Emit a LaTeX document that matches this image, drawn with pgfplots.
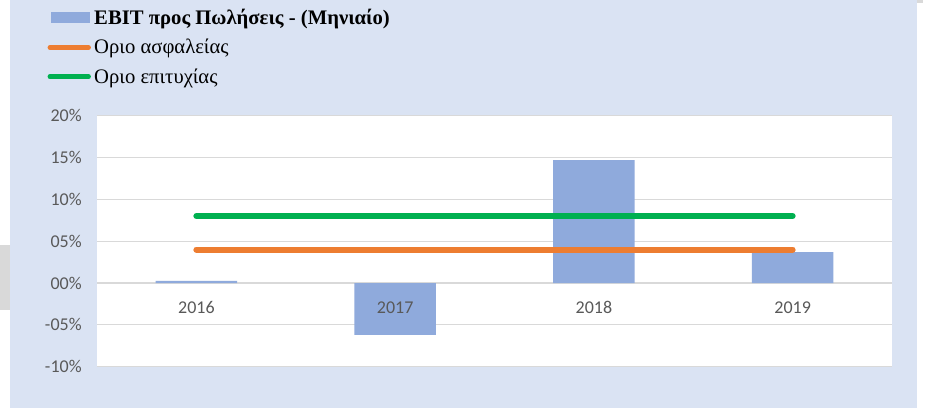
\documentclass[border=0pt]{standalone}
\usepackage{fontspec}
\setmainfont{Liberation Serif}
\newfontfamily\carlito{Carlito}
\usepackage{pgfplots}
\pgfplotsset{compat=1.18}
\pgfdeclarelayer{pictbg}
\pgfplotsset{layers/mylayers/.define layer set={pictbg,axis background,axis grid,axis ticks,axis lines,pre main,main,axis tick labels,axis descriptions,axis foreground}{/pgfplots/layers/standard}}
\definecolor{bgblue}{HTML}{DAE3F3}
\definecolor{barblue}{HTML}{8FAADC}
\definecolor{xlorange}{HTML}{ED7D31}
\definecolor{xlgreen}{HTML}{00B050}
\definecolor{gridgray}{HTML}{D9D9D9}
\definecolor{ticktext}{HTML}{595959}
\begin{document}
\begin{tikzpicture}
\pgfsetlayers{pictbg,main}
\begin{pgfonlayer}{pictbg}
\fill[white] (0,0) rectangle (693.75pt,306pt);
\fill[bgblue] (7.5pt,0) rectangle (687.75pt,306pt);
\fill[gridgray] (0,73.5pt) rectangle (7.5pt,122.25pt);
\fill[gridgray] (687.75pt,303.75pt) rectangle (692.25pt,306pt);
\end{pgfonlayer}
\begin{axis}[
  set layers=mylayers,
  at={(72.75pt,31pt)}, anchor=south west,
  scale only axis, width=596.25pt, height=188.25pt,
  xmin=-0.5, xmax=3.5, ymin=-10, ymax=20,
  axis background/.style={fill=white},
  axis x line=middle, axis y line=left,
  axis line style={draw=none},
  major tick length=0pt,
  xtick={0,1,2,3}, xticklabels={2016,2017,2018,2019},
  ytick={-10,-5,0,5,10,15,20},
  yticklabels={-10\%,-05\%,00\%,05\%,10\%,15\%,20\%},
  ymajorgrids, grid style={gridgray, line width=0.9pt},
  tick label style={font=\carlito\fontsize{13.5pt}{16pt}\selectfont, text=ticktext},
  yticklabel style={xshift=-8pt},
  xticklabel style={yshift=-9.5pt, text height=10pt, text depth=2pt, anchor=north},
  clip=false,
  legend cell align=left,
  legend style={at={(-0.0625,1.437)}, anchor=north west, draw=none, fill=none,
    inner sep=0pt, row sep=5.6pt, font=\fontsize{15.5pt}{18pt}\selectfont,
    nodes={inner xsep=2.5pt}},
]
\addplot[ybar, bar width=0.41, bar shift=0pt, fill=barblue, draw=none,
  legend image code/.code={\fill[barblue] (1.5pt,-4.1pt) rectangle (31pt,4.1pt);}]
  coordinates {(0,0.25) (1,-6.2) (2,14.7) (3,3.7)};
\addlegendentry{\textbf{EBIT προς Πωλήσεις - (Μηνιαίο)}}
\addplot[xlorange, line width=4.5pt, line cap=round,
  legend image code/.code={\draw[xlorange, line width=3.5pt, line cap=round] (1pt,0pt) -- (30pt,0pt);}]
  coordinates {(0,4) (1,4) (2,4) (3,4)};
\addlegendentry{Οριο ασφαλείας}
\addplot[xlgreen, line width=4.5pt, line cap=round,
  legend image code/.code={\draw[xlgreen, line width=3.5pt, line cap=round] (1pt,0pt) -- (30pt,0pt);}]
  coordinates {(0,8) (1,8) (2,8) (3,8)};
\addlegendentry{Οριο επιτυχίας}
\end{axis}
\pgfresetboundingbox
\path (0,0) rectangle (693.75pt,306pt);
\end{tikzpicture}
\end{document}
